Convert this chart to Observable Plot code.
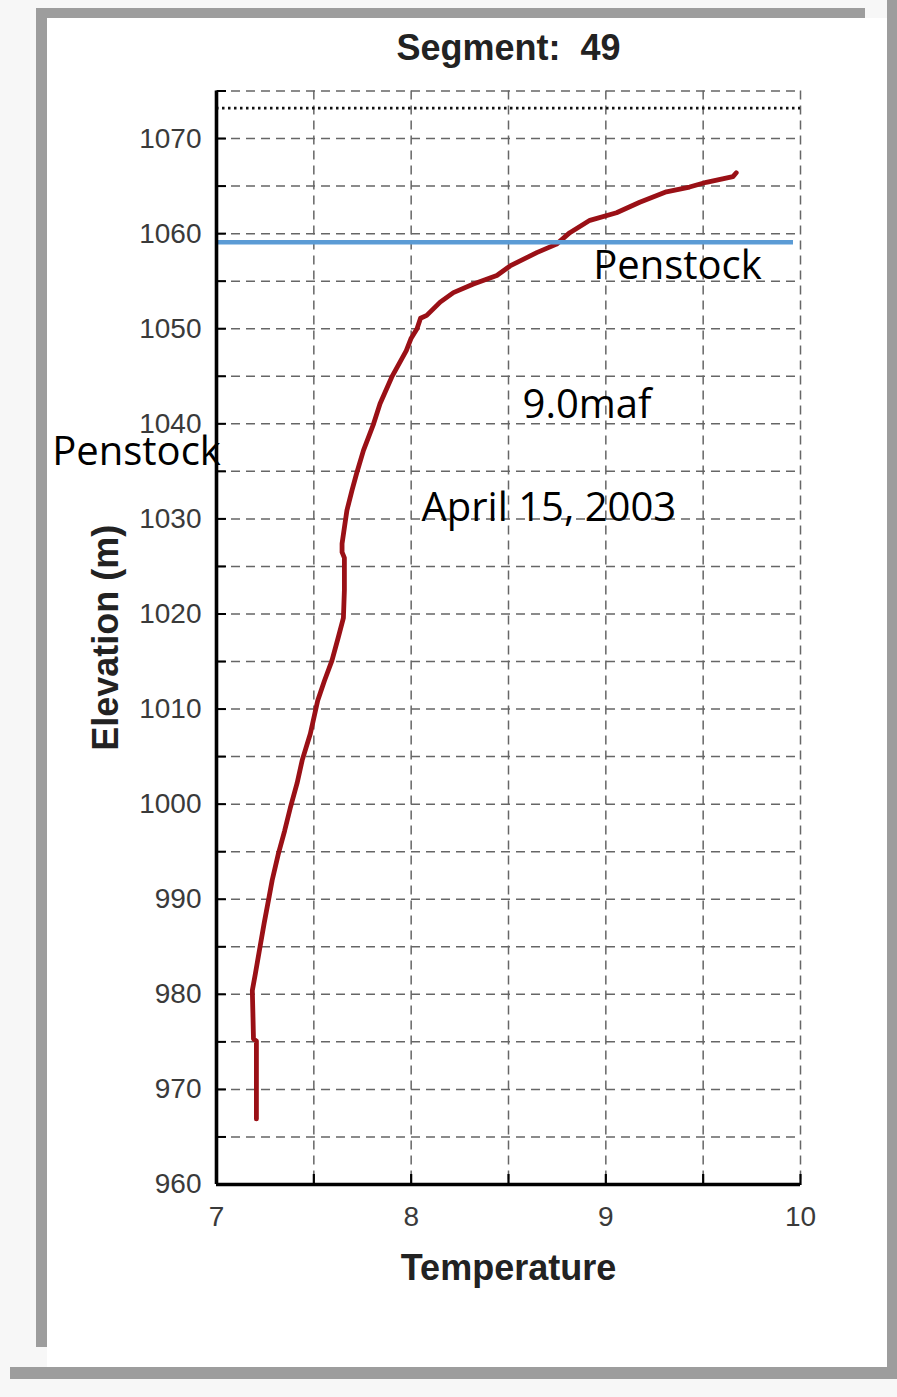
<!DOCTYPE html>
<html>
<head>
<meta charset="utf-8">
<script src="https://cdn.jsdelivr.net/npm/d3@7"></script>
<script src="https://cdn.jsdelivr.net/npm/@observablehq/plot@0.6"></script>
<style>
html, body { margin: 0; padding: 0; background: #f7f7f7; }
#wrap { position: relative; width: 897px; height: 1397px; overflow: hidden; }
#panel { position: absolute; left: 47px; top: 18px; width: 840px; height: 1349px; background: #ffffff; }
.bar { position: absolute; background: #9d9d9d; }
#chart { position: absolute; left: 0; top: 0; }
</style>
</head>
<body>
<div id="wrap">
  <div id="panel"></div>
  <div class="bar" style="left:36px;top:8px;width:829px;height:10px"></div>
  <div class="bar" style="left:36px;top:8px;width:11px;height:1339px"></div>
  <div class="bar" style="left:10px;top:1367px;width:887px;height:12px"></div>
  <div class="bar" style="left:887px;top:0px;width:10px;height:1379px"></div>
  <div id="chart"></div>
</div>
<script>
// ---- Data ----
const titleText = "Segment:  49";
const xLabel = "Temperature";
const yLabel = "Elevation (m)";

// Temperature profile, bottom to top
const elevation = [966.9, 970, 975.1, 975.3, 978, 980.4, 982.2, 984.8, 987.5, 989.9, 992, 994.8, 997.2, 999.6,
  1002.2, 1004.6, 1007.4, 1010.9, 1013, 1015.1, 1017.5, 1019.6, 1022.5, 1025.9, 1026.5, 1027.4, 1029.8,
  1030.9, 1033, 1034.8, 1037.2, 1040, 1042.1, 1044.9, 1047.7, 1049, 1050, 1051.1, 1051.4, 1052.8, 1053.8,
  1054.7, 1055.6, 1056.6, 1058, 1058.9, 1060.1, 1061.4, 1062.2, 1063.3, 1064.4, 1064.9, 1065.4, 1066, 1066.4];
const temperature = [7.205, 7.205, 7.205, 7.19, 7.187, 7.184, 7.2, 7.222, 7.245, 7.267, 7.286, 7.318, 7.35, 7.379,
  7.414, 7.44, 7.482, 7.52, 7.555, 7.593, 7.625, 7.652, 7.657, 7.657, 7.645, 7.645, 7.662,
  7.67, 7.696, 7.72, 7.755, 7.807, 7.84, 7.9, 7.975, 8.0, 8.03, 8.048, 8.08, 8.149, 8.217,
  8.32, 8.44, 8.508, 8.645, 8.747, 8.815, 8.918, 9.055, 9.174, 9.311, 9.43, 9.516, 9.653, 9.67];

const penstockElevation = 1059.1;
const penstockEndTemp = 9.964;
const waterSurface = 1073.2;

const xDomain = [7, 10];
const yDomain = [960, 1075];
const xTickLabels = [7, 8, 9, 10];
const xGridValues = [7.5, 8, 8.5, 9, 9.5, 10];
const yTickLabels = [960, 970, 980, 990, 1000, 1010, 1020, 1030, 1040, 1050, 1060, 1070];
const yGridValues = [965, 970, 975, 980, 985, 990, 995, 1000, 1005, 1010, 1015, 1020, 1025, 1030, 1035, 1040, 1045, 1050, 1055, 1060, 1065, 1070, 1075];

const noteTexts = ["Penstock", "Penstock", "9.0maf", "April 15, 2003"];
const noteX = [8.935, 6.156, 8.572, 8.053];
const noteY = [1056.6, 1037.0, 1042.0, 1031.1];

// ---- Build tables ----
const profile = elevation.map((e, i) => ({E: e, T: temperature[i]}));
const notes = noteTexts.map((t, i) => ({text: t, x: noteX[i], y: noteY[i]}));

const gridStyle = {stroke: "#666666", strokeOpacity: 1, strokeWidth: 1.5, strokeDasharray: "9,6"};
const plain = d => String(d);

const chart = Plot.plot({
  width: 897,
  height: 1397,
  marginLeft: 216,
  marginRight: 97,
  marginTop: 90.5,
  marginBottom: 213,
  style: {background: "transparent", fontFamily: "'Liberation Sans', Arial, sans-serif"},
  x: {domain: xDomain},
  y: {domain: yDomain},
  marks: [
    Plot.gridY(yGridValues, gridStyle),
    Plot.gridX(xGridValues, gridStyle),
    Plot.ruleY([waterSurface], {stroke: "#111", strokeWidth: 2.8, strokeDasharray: "2.5,3.5"}),
    Plot.axisY(yTickLabels, {tickSize: 0, tickPadding: 15, fontSize: 28, fill: "#3a3a3a", label: null, tickFormat: plain}),
    Plot.axisX(xTickLabels, {tickSize: 0, tickPadding: 22, fontSize: 28, fill: "#3a3a3a", label: null, tickFormat: plain}),
    Plot.axisY(yGridValues, {anchor: "right", frameAnchor: "left", tickSize: 9, tickFormat: () => "", stroke: "#000", strokeWidth: 2, label: null}),
    Plot.axisX(xGridValues, {anchor: "top", frameAnchor: "bottom", tickSize: 11, tickFormat: () => "", stroke: "#000", strokeWidth: 2.2, label: null}),
    Plot.line(profile, {x: "T", y: "E", stroke: "#9a1016", strokeWidth: 4.8, strokeLinejoin: "round"}),
    Plot.ruleY([penstockElevation], {x1: xDomain[0], x2: penstockEndTemp, stroke: "#5b9bd5", strokeWidth: 4.5}),
    Plot.ruleX([xDomain[0]], {stroke: "#000", strokeWidth: 3.6}),
    Plot.ruleY([yDomain[0]], {stroke: "#000", strokeWidth: 3.6}),
    Plot.text(notes, {x: "x", y: "y", text: "text", textAnchor: "start", lineAnchor: "middle",
      fontSize: 40, fontFamily: "'Open Sans', sans-serif", fill: "#000", clip: false}),
    Plot.text([titleText], {frameAnchor: "top", dy: -43, fontSize: 36, fontWeight: "bold", fill: "#222", textAnchor: "middle", lineAnchor: "middle"}),
    Plot.text([xLabel], {frameAnchor: "bottom", dy: 84, fontSize: 36, fontWeight: "bold", fill: "#222", textAnchor: "middle", lineAnchor: "middle"}),
    Plot.text([yLabel], {frameAnchor: "left", dx: -110, rotate: -90, fontSize: 36, fontWeight: "bold", fill: "#222", textAnchor: "middle", lineAnchor: "middle"})
  ]
});
document.getElementById("chart").appendChild(chart);
</script>
</body>
</html>
